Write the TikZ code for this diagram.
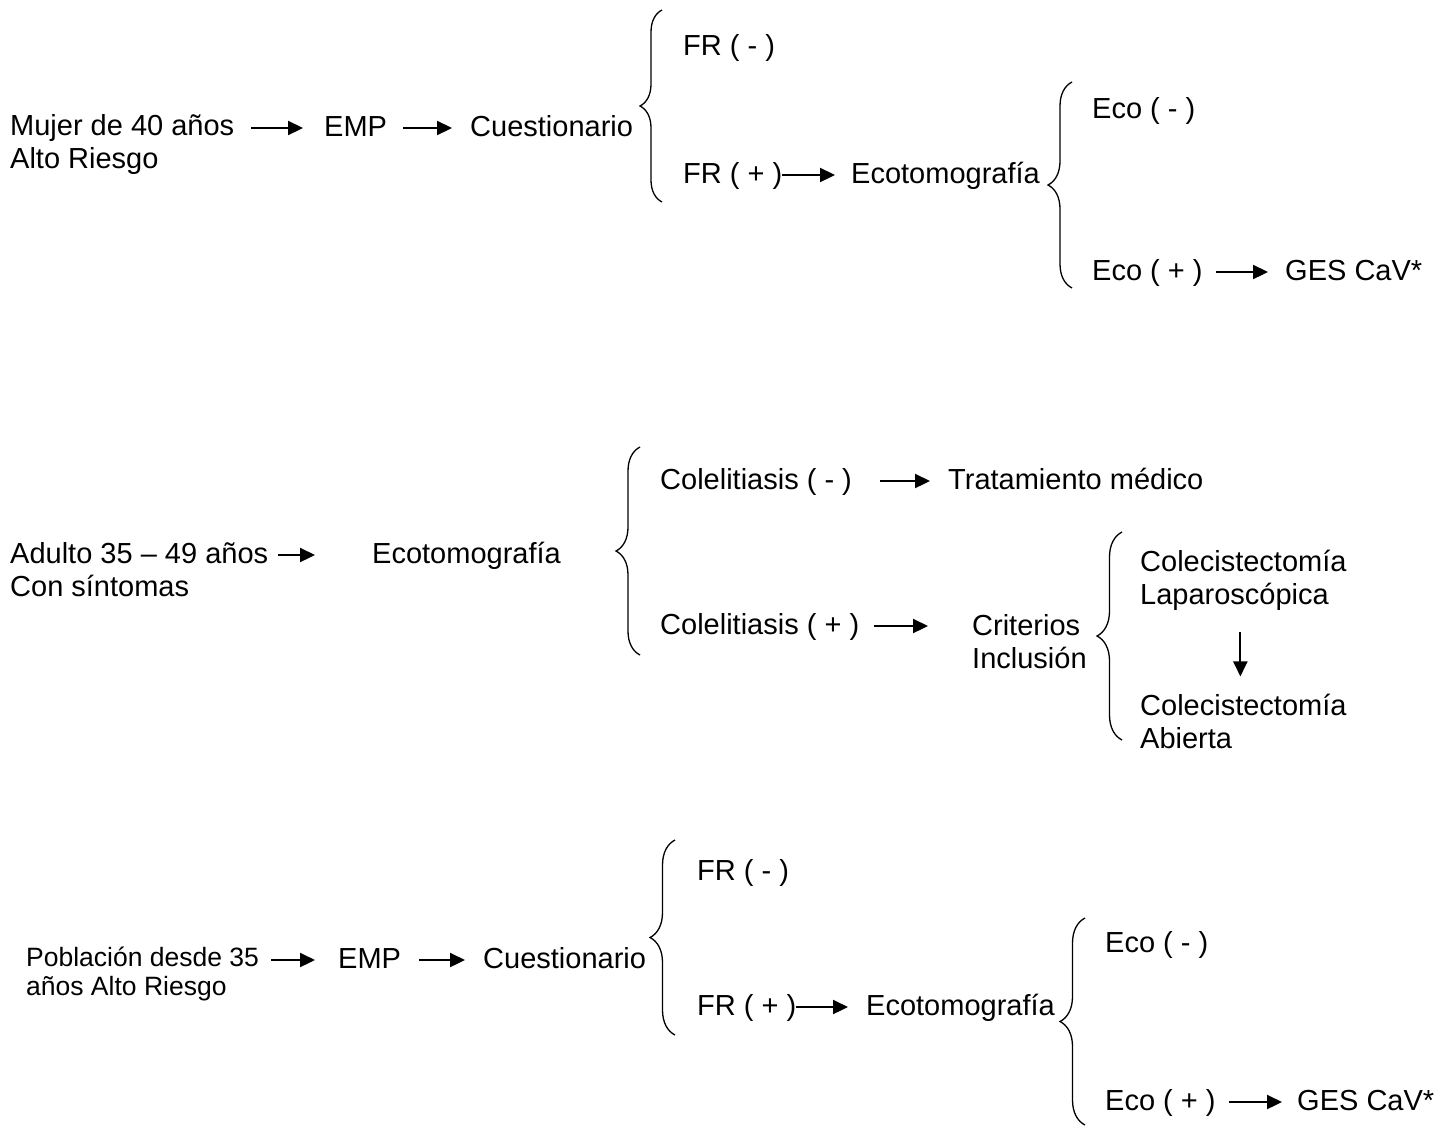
\documentclass[tikz,border=0pt]{standalone}
\usepackage{fontspec}
\setmainfont{Liberation Sans}
\usetikzlibrary{arrows.meta,decorations.pathreplacing,calc}
\begin{document}
\begin{tikzpicture}[x=1pt,y=-1pt,
  txt/.style={inner sep=0pt, anchor=base west, align=left, font=\fontsize{29}{33}\selectfont},
  smalltxt/.style={txt, font=\fontsize{26.5}{29}\selectfont},
  arr/.style={line width=2.2pt, -{Triangle[length=15pt,width=14pt]}},
  brc/.style={line width=1.3pt, decorate, decoration={brace, amplitude=#1}}]
\fill[white] (0,0) rectangle (1455,1128);
\useasboundingbox (0,0) rectangle (1455,1128);

% ---------- Block 1 ----------
\node[txt] (mujer) at (10,168) {Mujer de 40 años\\Alto Riesgo};
\node[txt] (emp1)  at (324,136) {EMP};
\node[txt] (cues1) at (470,136) {Cuestionario};
\node[txt] (frm1)  at (683,55)  {FR ( - )};
\node[txt] (frp1)  at (683,183) {FR ( + )};
\node[txt] (eco1)  at (851,183) {Ecotomografía};
\node[txt] (ecom1) at (1092,118) {Eco ( - )};
\node[txt] (ecop1) at (1092,280) {Eco ( + )};
\node[txt] (ges1)  at (1285,280) {GES CaV*};

\draw[arr] ($(mujer.east |- emp1.base)+(17,-8)$) -- ($(emp1.base west)+(-21,-8)$);
\draw[arr] ($(emp1.base east)+(16,-8)$) -- ($(cues1.base west)+(-18,-8)$);
\draw[arr] ($(frp1.base east)+(0,-8)$) -- ($(eco1.base west)+(-16,-8)$);
\draw[arr] ($(ecop1.base east)+(13,-8)$) -- ($(ges1.base west)+(-17,-8)$);

\draw[brc=22pt] (662,202) -- (662,10);
\draw[brc=24pt] (1072,288) -- (1072,82);

% ---------- Block 2 ----------
\node[txt] (adulto) at (10,596) {Adulto 35 – 49 años\\Con síntomas};
\node[txt] (ecoA)  at (372,563) {Ecotomografía};
\node[txt] (colm)  at (660,489) {Colelitiasis ( - )};
\node[txt] (trat)  at (948,489) {Tratamiento médico};
\node[txt] (colp)  at (660,634) {Colelitiasis ( + )};
\node[txt] (crit)  at (972,668) {Criterios\\Inclusión};
\node[txt] (lap)   at (1140,604) {Colecistectomía\\Laparoscópica};
\node[txt] (abi)   at (1140,748) {Colecistectomía\\Abierta};

\draw[arr] ($(adulto.east |- ecoA.base)+(10,-8)$) -- ($(ecoA.base west)+(-57,-8)$);
\draw[arr] ($(colm.base east)+(28,-8)$) -- ($(trat.base west)+(-18,-8)$);
\draw[arr] ($(colp.base east)+(15,-8)$) -- ($(crit.west |- colp.base)+(-44,-8)$);
\draw[arr] ($(lap.south)+(-3,22)$) -- ($(abi.north)+(-3,-17)$);

\draw[brc=24pt] (640,655) -- (640,447);
\draw[brc=25pt] (1122,740) -- (1122,532);

% ---------- Block 3 ----------
\node[smalltxt] (pob) at (26,995) {Población desde 35\\años Alto Riesgo};
\node[txt] (emp3)  at (338,968) {EMP};
\node[txt] (cues3) at (483,968) {Cuestionario};
\node[txt] (frm3)  at (697,880) {FR ( - )};
\node[txt] (frp3)  at (697,1015) {FR ( + )};
\node[txt] (eco3)  at (866,1015) {Ecotomografía};
\node[txt] (ecom3) at (1105,952) {Eco ( - )};
\node[txt] (ecop3) at (1105,1110) {Eco ( + )};
\node[txt] (ges3)  at (1297,1110) {GES CaV*};

\draw[arr] ($(pob.east |- emp3.base)+(12,-8)$) -- ($(emp3.base west)+(-23,-8)$);
\draw[arr] ($(emp3.base east)+(18,-8)$) -- ($(cues3.base west)+(-18,-8)$);
\draw[arr] ($(frp3.base east)+(0,-8)$) -- ($(eco3.base west)+(-18,-8)$);
\draw[arr] ($(ecop3.base east)+(13,-8)$) -- ($(ges3.base west)+(-15,-8)$);

\draw[brc=25pt] (675,1035) -- (675,840);
\draw[brc=25pt] (1085,1125) -- (1085,918);
\end{tikzpicture}
\end{document}
